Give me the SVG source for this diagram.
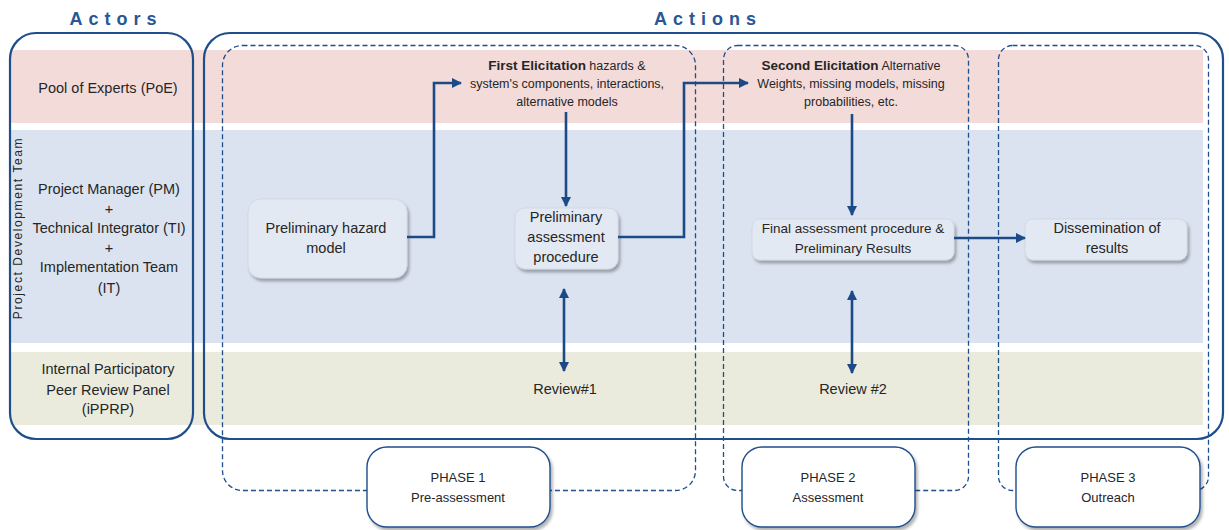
<svg xmlns="http://www.w3.org/2000/svg" width="1229" height="530" viewBox="0 0 1229 530">
<style>
.t{font-family:"Liberation Sans",Arial,sans-serif;font-size:14.5px;fill:#262626;text-anchor:middle}
.t2{font-size:13.5px}
.v{font-size:12px;letter-spacing:1.6px}
.s{font-family:"Liberation Sans",Arial,sans-serif;font-size:12.5px;fill:#262626;text-anchor:middle}
.b{font-weight:bold;font-size:13.5px}
.title{font-family:"Liberation Sans",Arial,sans-serif;font-size:18px;font-weight:bold;fill:#2a5793;text-anchor:middle;letter-spacing:6px}
.frame{fill:none;stroke:#1f4e8c;stroke-width:2.2}
.dash{fill:none;stroke:#1f4e8c;stroke-width:1.3;stroke-dasharray:5 3}
.node{fill:#e3e9f3;stroke:#cdd6e4;stroke-width:0.8;filter:url(#sh)}
.phase{fill:#ffffff;stroke:#1f4e8c;stroke-width:1.4;filter:url(#sh)}
.c{fill:none;stroke:#1c4a87;stroke-width:2.6}
.p{font-family:"Liberation Sans",Arial,sans-serif;font-size:13px;fill:#262626;text-anchor:middle}
</style>
<defs>
<filter id="sh" x="-10%" y="-10%" width="130%" height="140%">
<feDropShadow dx="2" dy="3" stdDeviation="1.5" flood-color="#000" flood-opacity="0.3"/>
</filter>
<marker id="ah" viewBox="0 0 10 10" refX="9" refY="5" markerWidth="4" markerHeight="4" orient="auto-start-reverse">
<path d="M0,0 L10,5 L0,10 Z" fill="#1c4a87"/>
</marker>
</defs>
<rect width="1229" height="530" fill="#ffffff"/>
<g id="bands">
<rect x="10" y="50" width="1193" height="73" fill="#f3dbda"/>
<rect x="10" y="130" width="1193" height="213" fill="#dbe3f0"/>
<rect x="10" y="352" width="1193" height="73" fill="#ebebdd"/>
</g>
<g id="titles">
<text class="title" x="116" y="25">Actors</text>
<text class="title" x="708" y="25">Actions</text>
</g>
<g id="frames">
<rect class="frame" x="10" y="33" width="183" height="406" rx="26"/>
<rect class="frame" x="204" y="33" width="1019" height="406" rx="26"/>
</g>
<g id="phase-areas">
<rect class="dash" x="222.5" y="45.5" width="473" height="445" rx="20"/>
<rect class="dash" x="723.5" y="45.5" width="245" height="445" rx="14"/>
<rect class="dash" x="998.5" y="45.5" width="210" height="445" rx="14"/>
</g>
<g id="actors">
<text class="t" x="108" y="93">Pool of Experts (PoE)</text>
<g id="pdt">
<text class="t" x="109" y="194">Project Manager (PM)</text>
<text class="t" x="109" y="214">+</text>
<text class="t" x="109" y="233">Technical Integrator (TI)</text>
<text class="t" x="109" y="253">+</text>
<text class="t" x="109" y="272">Implementation Team</text>
<text class="t" x="109" y="293">(IT)</text>
<text class="t v" x="0" y="0" transform="translate(22,228) rotate(-90)">Project Development Team</text>
</g>
<text class="t" x="108" y="374">Internal Participatory</text>
<text class="t" x="108" y="395">Peer Review Panel</text>
<text class="t" x="108" y="414">(iPPRP)</text>
</g>
<g id="first-elicitation">
<text class="s" x="567" y="70"><tspan class="b">First Elicitation</tspan> hazards &amp;</text>
<text class="s" x="567" y="88">system's components, interactions,</text>
<text class="s" x="567" y="106">alternative models</text>
</g>
<g id="second-elicitation">
<text class="s" x="851" y="70"><tspan class="b">Second Elicitation</tspan> Alternative</text>
<text class="s" x="851" y="88">Weights, missing models, missing</text>
<text class="s" x="851" y="106">probabilities, etc.</text>
</g>
<g id="n-hazard">
<rect class="node" x="248" y="199" width="159" height="79" rx="13"/>
<text class="t" x="326" y="233">Preliminary hazard</text>
<text class="t" x="326" y="253">model</text>
</g>
<g id="n-prelim">
<rect class="node" x="515" y="208" width="103" height="61" rx="10"/>
<text class="t" x="566" y="222">Preliminary</text>
<text class="t" x="566" y="242">assessment</text>
<text class="t" x="566" y="262">procedure</text>
</g>
<g id="n-final">
<rect class="node" x="752" y="219" width="202" height="41" rx="8"/>
<text class="t t2" x="853" y="233">Final assessment procedure &amp;</text>
<text class="t t2" x="853" y="253">Preliminary Results</text>
</g>
<g id="n-dissem">
<rect class="node" x="1025" y="219" width="162" height="41" rx="8"/>
<text class="t" x="1107" y="233">Dissemination of</text>
<text class="t" x="1107" y="253">results</text>
</g>
<g id="n-review1"><text class="t" x="565" y="394">Review#1</text></g>
<g id="n-review2"><text class="t" x="853" y="394">Review #2</text></g>
<g id="connectors">
<path class="c" d="M407,237 H434 V83 H461" marker-end="url(#ah)"/>
<path class="c" d="M566,112 V206" marker-end="url(#ah)"/>
<path class="c" d="M618,237 H684 V83 H748" marker-end="url(#ah)"/>
<path class="c" d="M564,289 V371" marker-start="url(#ah)" marker-end="url(#ah)"/>
<path class="c" d="M852,114 V215" marker-end="url(#ah)"/>
<path class="c" d="M954,238 H1025" marker-end="url(#ah)"/>
<path class="c" d="M852,291 V373" marker-start="url(#ah)" marker-end="url(#ah)"/>
</g>
<g id="phase1">
<rect class="phase" x="367" y="447" width="183" height="80" rx="20"/>
<text class="p" x="458" y="482">PHASE 1</text>
<text class="p" x="458" y="502">Pre-assessment</text>
</g>
<g id="phase2">
<rect class="phase" x="742" y="447" width="173" height="80" rx="20"/>
<text class="p" x="828" y="482">PHASE 2</text>
<text class="p" x="828" y="502">Assessment</text>
</g>
<g id="phase3">
<rect class="phase" x="1016" y="447" width="184" height="80" rx="20"/>
<text class="p" x="1108" y="482">PHASE 3</text>
<text class="p" x="1108" y="502">Outreach</text>
</g>
</svg>
